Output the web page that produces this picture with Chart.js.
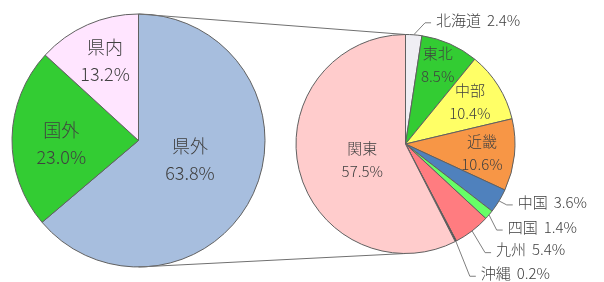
<!DOCTYPE html>
<html><head><meta charset="utf-8">
<script src="https://cdn.jsdelivr.net/npm/chart.js@4"></script>
<style>
html,body{margin:0;padding:0;background:#fff;}
#wrap{position:relative;width:604px;height:282px;overflow:hidden;}
canvas{position:absolute;left:0;top:0;}
</style></head><body>
<div id="wrap"><canvas id="c1" width="604" height="282"></canvas><canvas id="c2" width="604" height="282"></canvas></div>
<script>
// ---- data ----
const mainCategories = ['県外', '国外', '県内'];
const mainValues = [63.8, 23.0, 13.2];
const subCategories = ['北海道', '東北', '中部', '近畿', '中国', '四国', '九州', '沖縄', '関東'];
const subValues = [2.4, 8.5, 10.4, 10.6, 3.6, 1.4, 5.4, 0.2, 57.5];

// ---- styles ----
const mainColors = ['#A7BEDE', '#33CC33', '#FFE5FF'];
const subColors = ['#EFEEF4', '#33CC33', '#FFFF66', '#F79646', '#4F81BD', '#66FF66', '#FF7C80', '#404040', '#FFCCCC'];
const FONT = '"Noto Sans CJK JP", "Noto Sans", sans-serif';
const TEXT = '#404040';
const BORDER = '#606060';

// label layout (offsets relative to arc geometry)
const mainLabelLayout = [
  {dx: -6, dy: -7}, {dx: -14, dy: 4}, {dx: -8, dy: -22}
];
const subLabelLayout = [
  {outside: true, ex: 11.3, ey: -12},
  {dx: 10, dy: -29.5},
  {dx: 18, dy: -13.5},
  {dx: 22, dy: 3},
  {outside: true, ex: 7.7, ey: 4},
  {outside: true, ex: 7.7, ey: 15.2},
  {outside: true, ex: 13, ey: 21.7},
  {outside: true, ex: 14, ey: 35},
  {dx: 10, dy: 3}
];

const fmt = v => v.toFixed(1) + '%';

function labelPlugin(cats, layout, fontSize, spacing) {
  return {
    id: 'lbl',
    afterDatasetsDraw(chart) {
      const ctx = chart.ctx;
      const meta = chart.getDatasetMeta(0);
      const vals = chart.data.datasets[0].data;
      ctx.save();
      ctx.fillStyle = TEXT;
      ctx.font = '300 ' + fontSize + 'px ' + FONT;
      ctx.textBaseline = 'middle';
      meta.data.forEach((arc, i) => {
        const p = arc.getProps(['x', 'y', 'startAngle', 'endAngle', 'outerRadius'], true);
        const mid = (p.startAngle + p.endAngle) / 2;
        const L = layout[i];
        if (L.outside) {
          const sx = p.x + Math.cos(mid) * p.outerRadius;
          const sy = p.y + Math.sin(mid) * p.outerRadius;
          const ex = sx + L.ex, ey = sy + L.ey;
          ctx.strokeStyle = '#7F7F7F';
          ctx.lineWidth = 1;
          ctx.beginPath();
          ctx.moveTo(sx, sy);
          ctx.lineTo(ex, ey);
          ctx.lineTo(ex + 6, ey);
          ctx.stroke();
          ctx.textAlign = 'left';
          const tx = ex + 11, ty = ey - 3;
          ctx.fillText(cats[i], tx, ty);
          const w = ctx.measureText(cats[i]).width;
          ctx.fillText(fmt(vals[i]), tx + w + 6, ty);
        } else {
          const r = p.outerRadius / 2;
          const cx = p.x + Math.cos(mid) * r + L.dx;
          const cy = p.y + Math.sin(mid) * r + L.dy;
          ctx.textAlign = 'center';
          ctx.fillText(cats[i], cx, cy - spacing / 2);
          ctx.fillText(fmt(vals[i]), cx, cy + spacing / 2);
        }
      });
      ctx.restore();
    }
  };
}

const common = {
  responsive: false,
  devicePixelRatio: 1,
  animation: false,
  events: [],
  plugins: {legend: {display: false}, tooltip: {enabled: false}}
};

const chart1 = new Chart(document.getElementById('c1'), {
  type: 'pie',
  data: {labels: mainCategories, datasets: [{data: mainValues, backgroundColor: mainColors, borderColor: BORDER, borderWidth: 1}]},
  options: Object.assign({}, common, {
    radius: 126.5,
    layout: {padding: {left: 0, right: 327, top: 0, bottom: 1}}
  }),
  plugins: [labelPlugin(mainCategories, mainLabelLayout, 18, 27)]
});

const connector = {
  id: 'conn',
  beforeDatasetsDraw(chart) {
    const a = chart1.getDatasetMeta(0).data[0];
    const b = chart.getDatasetMeta(0).data[0];
    const ctx = chart.ctx;
    ctx.save();
    ctx.strokeStyle = '#707070';
    ctx.lineWidth = 1;
    ctx.beginPath();
    ctx.moveTo(a.x, a.y - a.outerRadius);
    ctx.lineTo(b.x, b.y - b.outerRadius);
    ctx.moveTo(a.x, a.y + a.outerRadius);
    ctx.lineTo(b.x, b.y + b.outerRadius);
    ctx.stroke();
    ctx.restore();
  }
};

const chart2 = new Chart(document.getElementById('c2'), {
  type: 'pie',
  data: {labels: subCategories, datasets: [{data: subValues, backgroundColor: subColors, borderColor: BORDER, borderWidth: 1}]},
  options: Object.assign({}, common, {
    radius: 109.5,
    layout: {padding: {left: 296, right: 89, top: 34, bottom: 28}}
  }),
  plugins: [connector, labelPlugin(subCategories, subLabelLayout, 15, 23)]
});
</script>
</body></html>
